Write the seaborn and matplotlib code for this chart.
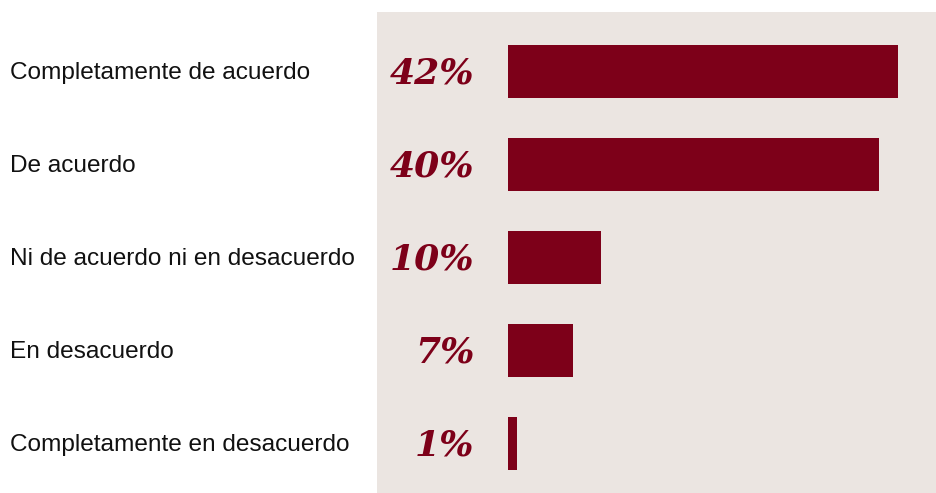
import matplotlib
matplotlib.use("Agg")
import matplotlib.pyplot as plt
import matplotlib.transforms as mtransforms
import seaborn as sns
import pandas as pd

categories = [
    "Completamente de acuerdo",
    "De acuerdo",
    "Ni de acuerdo ni en desacuerdo",
    "En desacuerdo",
    "Completamente en desacuerdo",
]
values = [42, 40, 10, 7, 1]
value_labels = ["42%", "40%", "10%", "7%", "1%"]

bar_color = "#7d0019"
panel_color = "#ebe5e1"

df = pd.DataFrame({"cat": categories, "val": values})

sns.set_theme(style="white")
plt.rcParams["font.family"] = ["Liberation Sans", "DejaVu Sans"]

fig = plt.figure(figsize=(9.36, 4.93), dpi=100)
fig.patch.set_facecolor("white")
W, H = 936, 493
ax = fig.add_axes([377 / W, 0, (936 - 377) / W, (493 - 12) / H])
ax.set_facecolor(panel_color)

sns.barplot(data=df, x="val", y="cat", orient="h", color=bar_color,
            saturation=1, width=0.57, linewidth=0, edgecolor="none", ax=ax)

ax.set_xlim(-14.1, 46.1)
ax.set_ylim(4.532, -0.64)
for s in ax.spines.values():
    s.set_visible(False)
ax.set_xticks([])
ax.set_yticks([])
ax.set_xlabel("")
ax.set_ylabel("")

for i, (v, lab) in enumerate(zip(values, value_labels)):
    ax.text(-3.6, i + 0.02, lab, ha="right", va="center",
            fontsize=26, fontweight="bold", fontstyle="italic",
            family=["DejaVu Serif"], color=bar_color)

trans = mtransforms.blended_transform_factory(fig.transFigure, ax.transData)
for i, c in enumerate(categories):
    fig.text(10 / W, i + 0.02, c, ha="left", va="center", fontsize=17.6,
             color="#111111", transform=trans)

fig.savefig("out.png", dpi=100, facecolor="white")
